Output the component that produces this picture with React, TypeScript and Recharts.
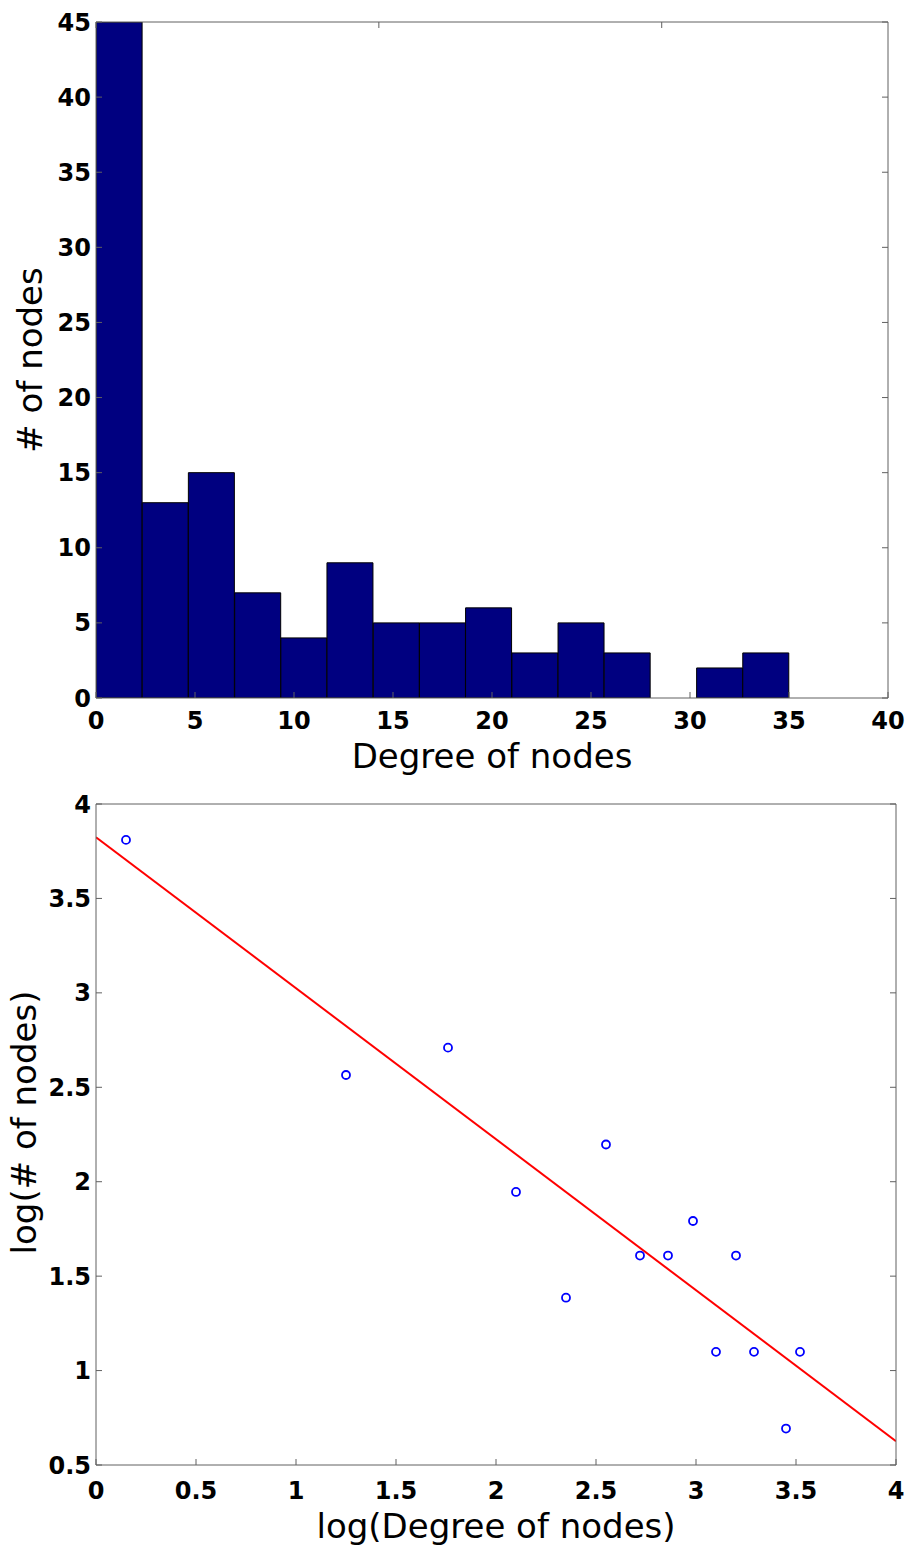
import React from 'react';
import { ComposedChart, Bar, XAxis, YAxis, Label, Scatter, Line } from 'recharts';

// ---- Top chart: histogram of node degree ----
const binCenters = [1.17, 3.5, 5.83, 8.17, 10.5, 12.83, 15.17, 17.5, 19.83, 22.17, 24.5, 26.83, 29.17, 31.5, 33.83];
const nodeCounts = [45, 13, 15, 7, 4, 9, 5, 5, 6, 3, 5, 3, 0, 2, 3];
const histXTicks = [0, 5, 10, 15, 20, 25, 30, 35, 40];
const histYTicks = [0, 5, 10, 15, 20, 25, 30, 35, 40, 45];

// ---- Bottom chart: log-log scatter with fitted line ----
const logDegree = [0.15, 1.25, 1.76, 2.1, 2.35, 2.55, 2.72, 2.86, 2.985, 3.1, 3.2, 3.29, 3.45, 3.52];
const logCount = [3.81, 2.565, 2.71, 1.946, 1.386, 2.197, 1.609, 1.609, 1.792, 1.099, 1.609, 1.099, 0.693, 1.099];
const fitX = [0, 4];
const fitY = [3.824, 0.626];
const logXTicks = [0, 0.5, 1, 1.5, 2, 2.5, 3, 3.5, 4];
const logYTicks = [0.5, 1, 1.5, 2, 2.5, 3, 3.5, 4];

const histData = binCenters.map((x, i) => ({ x, count: nodeCounts[i] }));
const scatterData = logDegree.map((x, i) => ({ x, y: logCount[i] }));
const fitData = fitX.map((x, i) => ({ x, y: fitY[i] }));

const FONT = '"DejaVu Sans", "Liberation Sans", Arial, sans-serif';
const AXIS = '#606060';
const tickStyle = { fill: '#000', fontSize: 24, fontWeight: 'bold' as const, fontFamily: FONT };
const labelStyle = { fill: '#000', fontSize: 34, fontFamily: FONT };
const blank = () => '';

const Circle = (props: any) => {
  const { cx, cy } = props;
  if (cx == null || cy == null) return null;
  return <circle cx={cx} cy={cy} r={4} fill="none" stroke="#0000ff" strokeWidth={1.8} />;
};

export default function App() {
  return (
    <div style={{ position: 'absolute', left: 0, top: 0, width: 909, height: 1550, overflow: 'hidden', fontFamily: FONT, background: '#fff' }}>
      <ComposedChart
        width={909}
        height={785}
        data={histData}
        margin={{ top: 21, right: 20, bottom: 0, left: 0 }}
        barCategoryGap={0}
        barGap={0}
      >
        <XAxis
          dataKey="x"
          type="number"
          domain={[0, 40]}
          ticks={histXTicks}
          interval={0}
          allowDataOverflow
          height={87}
          stroke={AXIS}
          tickSize={-6}
          tickMargin={20}
          tick={tickStyle}
        >
          <Label value="Degree of nodes" position="insideBottom" offset={17} style={labelStyle} />
        </XAxis>
        <XAxis
          xAxisId="top"
          orientation="top"
          type="number"
          domain={[0, 40]}
          ticks={histXTicks}
          interval={0}
          allowDataOverflow
          height={1}
          stroke={AXIS}
          tickSize={-6}
          tickFormatter={blank}
        />
        <YAxis
          type="number"
          domain={[0, 45]}
          ticks={histYTicks}
          interval={0}
          allowDataOverflow
          width={96}
          stroke={AXIS}
          tickSize={-6}
          tickMargin={11}
          tick={tickStyle}
        >
          <Label value="# of nodes" angle={-90} position="insideLeft" offset={30} style={{ ...labelStyle, textAnchor: 'middle' }} />
        </YAxis>
        <YAxis
          yAxisId="right"
          orientation="right"
          type="number"
          domain={[0, 45]}
          ticks={histYTicks}
          interval={0}
          allowDataOverflow
          width={1}
          stroke={AXIS}
          tickSize={-6}
          tickFormatter={blank}
        />
        <Bar dataKey="count" fill="#000080" stroke="#000000" strokeWidth={1} isAnimationActive={false} />
      </ComposedChart>

      <ComposedChart
        width={909}
        height={765}
        margin={{ top: 18, right: 12, bottom: 0, left: 0 }}
      >
        <XAxis
          dataKey="x"
          type="number"
          domain={[0, 4]}
          ticks={logXTicks}
          interval={0}
          allowDataOverflow
          height={85}
          stroke={AXIS}
          tickSize={-6}
          tickMargin={23}
          tick={tickStyle}
        >
          <Label value="log(Degree of nodes)" position="insideBottom" offset={12} style={labelStyle} />
        </XAxis>
        <XAxis
          xAxisId="top"
          orientation="top"
          type="number"
          domain={[0, 4]}
          ticks={logXTicks}
          interval={0}
          allowDataOverflow
          height={1}
          stroke={AXIS}
          tickSize={-6}
          tickFormatter={blank}
        />
        <YAxis
          dataKey="y"
          type="number"
          domain={[0.5, 4]}
          ticks={logYTicks}
          interval={0}
          allowDataOverflow
          width={96}
          stroke={AXIS}
          tickSize={-6}
          tickMargin={11}
          tick={tickStyle}
        >
          <Label value="log(# of nodes)" angle={-90} position="insideLeft" offset={24} dy={-12} style={{ ...labelStyle, textAnchor: 'middle' }} />
        </YAxis>
        <YAxis
          yAxisId="right"
          orientation="right"
          type="number"
          domain={[0.5, 4]}
          ticks={logYTicks}
          interval={0}
          allowDataOverflow
          width={1}
          stroke={AXIS}
          tickSize={-6}
          tickFormatter={blank}
        />
        <Line data={fitData} dataKey="y" stroke="#ff0000" strokeWidth={2} dot={false} activeDot={false} isAnimationActive={false} />
        <Scatter data={scatterData} dataKey="y" shape={Circle} isAnimationActive={false} />
      </ComposedChart>
    </div>
  );
}
